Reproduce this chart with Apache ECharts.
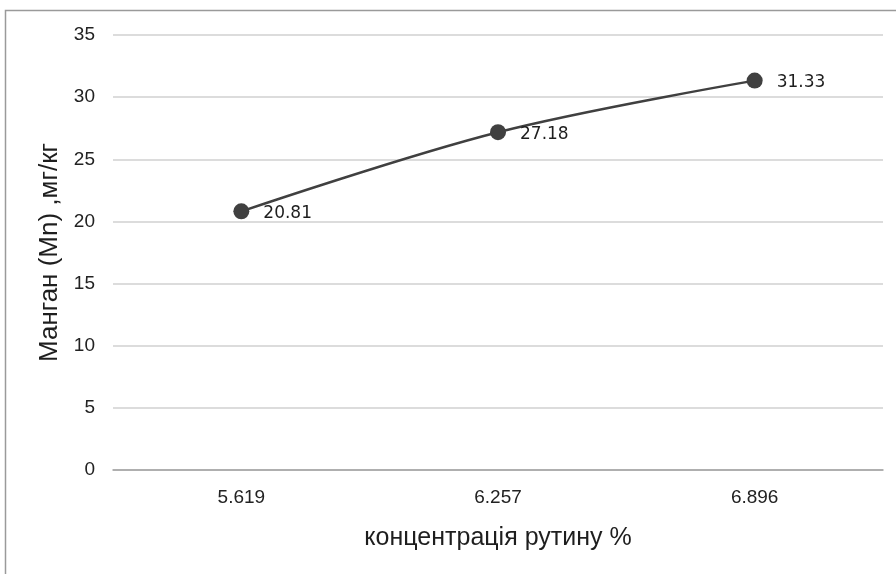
<!DOCTYPE html>
<html>
<head>
<meta charset="utf-8">
<script src="https://cdn.jsdelivr.net/npm/echarts@6/dist/echarts.min.js"></script>
<style>
  html, body { margin: 0; padding: 0; background: #fff; }
  #chart { width: 896px; height: 574px; }
</style>
</head>
<body>
<div id="chart"></div>
<script>
// Rutin concentration (%) vs manganese content (mg/kg)
const categories = ['5.619', '6.257', '6.896'];
const manganese = [20.81, 27.18, 31.33];
const yTicks = [0, 5, 10, 15, 20, 25, 30, 35];

const chart = echarts.init(document.getElementById('chart'), null, { renderer: 'canvas' });

chart.setOption({
  animation: false,
  backgroundColor: '#ffffff',
  graphic: [{
    type: 'rect',
    shape: { x: 5.5, y: 10.5, width: 1000, height: 1000 },
    style: { fill: 'none', stroke: '#9a9a9a', lineWidth: 1.5 },
    silent: true
  }],
  grid: { left: 113, right: 13, top: 35, bottom: 104, containLabel: false },
  xAxis: {
    type: 'category',
    data: categories,
    boundaryGap: true,
    name: 'концентрація рутину %',
    nameLocation: 'middle',
    nameGap: 56,
    nameTextStyle: { fontFamily: 'Liberation Sans', fontSize: 25, color: '#1e1e1e' },
    axisLine: { show: true, lineStyle: { color: '#a0a0a0', width: 1.5 } },
    axisTick: { show: false },
    axisLabel: { fontFamily: 'Liberation Sans', fontSize: 19, color: '#222', margin: 18 }
  },
  yAxis: {
    type: 'value',
    min: yTicks[0],
    max: yTicks[yTicks.length - 1],
    interval: 5,
    name: 'Манган (Mn) ,мг/кг',
    nameLocation: 'middle',
    nameGap: 50,
    nameTextStyle: { fontFamily: 'Liberation Sans', fontSize: 26, color: '#1e1e1e' },
    axisLine: { show: false },
    axisTick: { show: false },
    axisLabel: { fontFamily: 'Liberation Sans', fontSize: 19, color: '#222', margin: 18 },
    splitLine: { show: true, lineStyle: { color: '#d0d0d0', width: 1.5 } }
  },
  series: [{
    type: 'line',
    data: manganese,
    smooth: 0.35,
    symbol: 'circle',
    symbolSize: 16,
    lineStyle: { color: '#404040', width: 2.5 },
    itemStyle: { color: '#404040' },
    label: {
      show: true,
      position: 'right',
      distance: 14,
      offset: [0, 2],
      fontFamily: 'DejaVu Sans',
      fontSize: 17,
      color: '#1e1e1e',
      formatter: p => p.value.toFixed(2)
    }
  }]
});
</script>
</body>
</html>
